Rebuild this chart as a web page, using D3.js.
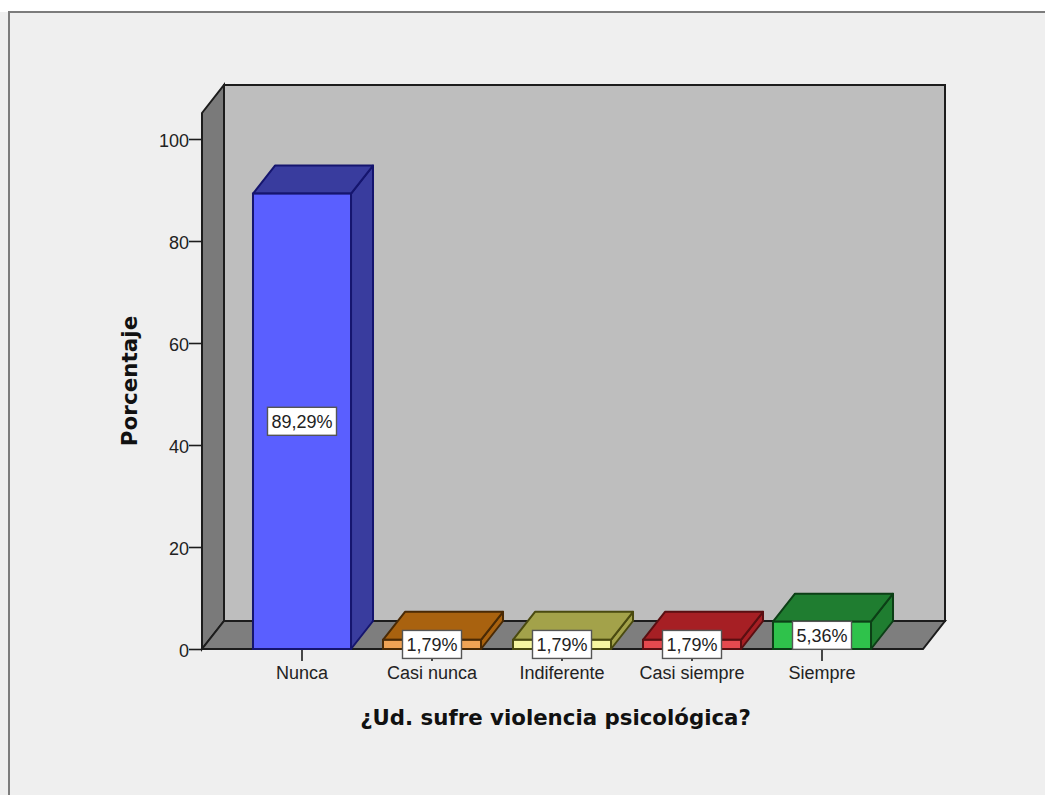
<!DOCTYPE html>
<html><head><meta charset="utf-8">
<script src="https://cdn.jsdelivr.net/npm/d3@7/dist/d3.min.js"></script>
<style>html,body{margin:0;padding:0;background:#fff;overflow:hidden}svg{display:block}</style>
</head><body><svg id="c" width="1045" height="795"></svg>
<script>
const categories = ["Nunca","Casi nunca","Indiferente","Casi siempre","Siempre"];
const values = [89.29,1.79,1.79,1.79,5.36];
const valueLabels = ["89,29%","1,79%","1,79%","1,79%","5,36%"];
const frontColors = ["#5a5fff","#f0a355","#f6f6a0","#e5494f","#2fc24b"];
const topColors = ["#393c9e","#a9620f","#a3a24a","#a61f24","#1f7d30"];
const sideColors = ["#393c9e","#a9620f","#a3a24a","#a61f24","#1f7d30"];
const strokeColors = ["#15156e","#4a2a05","#4a4a10","#5a0f12","#0c3f16"];
const yTicks = [0,20,40,60,80,100];
const xTitle = "¿Ud. sufre violencia psicológica?";
const yTitle = "Porcentaje";

const dx = 22, dy = -28;
const svg = d3.select("#c");
const y = d3.scaleLinear().domain([0,100]).range([649,139]);
const yTop = y(105.1), xL = 202, xR = 923;
const x = d3.scaleBand().domain(categories).range([237,887]).paddingInner(0.246).paddingOuter(0.123);
const poly = pts => d3.line()(pts)+"Z";
const INK = "#1c1c1c";

svg.append("rect").attr("x",-5).attr("y",12).attr("width",1100).attr("height",800).attr("fill","#efefef");
svg.append("path").attr("d","M9,800V12H1050").attr("fill","none").attr("stroke","#7c7c7c").attr("stroke-width",2);

// walls
svg.append("path").attr("d",poly([[xL+dx,y(0)+dy],[xR+dx,y(0)+dy],[xR+dx,yTop+dy],[xL+dx,yTop+dy]]))
  .attr("fill","#bebebe").attr("stroke",INK).attr("stroke-width",2);
svg.append("path").attr("d",poly([[xL,y(0)],[xL+dx,y(0)+dy],[xL+dx,yTop+dy],[xL,yTop]]))
  .attr("fill","#7a7a7a").attr("stroke",INK).attr("stroke-width",2);
svg.append("path").attr("d",poly([[xL,y(0)],[xR,y(0)],[xR+dx,y(0)+dy],[xL+dx,y(0)+dy]]))
  .attr("fill","#7e7e7e").attr("stroke",INK).attr("stroke-width",2);

// axes
const font = "'Liberation Sans',Arial,sans-serif";
const yAxis = d3.axisLeft(y).tickValues(yTicks).tickSize(13).tickPadding(0).tickSizeOuter(0);
const gy = svg.append("g").attr("transform",`translate(${xL},0)`).call(yAxis);
gy.select(".domain").remove();
gy.selectAll("line").attr("stroke",INK).attr("stroke-width",1.6);
gy.selectAll("text").attr("font-family",font).attr("font-size",18).attr("fill","#222").attr("dy","0.42em");

const xAxis = d3.axisBottom(x).tickSize(12).tickPadding(5).tickSizeOuter(0);
const gx = svg.append("g").attr("transform",`translate(0,${y(0)})`).call(xAxis);
gx.select(".domain").remove();
gx.selectAll("line").attr("stroke",INK).attr("stroke-width",1.6);
gx.selectAll("text").attr("font-family",font).attr("font-size",18).attr("fill","#222");

// bars
const g = svg.selectAll("g.bar").data(categories).join("g").attr("class","bar");
g.each(function(c,i){
  const s = d3.select(this), l = x(c), r = l+x.bandwidth(), t = y(values[i]), b = y(0);
  s.append("path").attr("d",poly([[r,b],[r+dx,b+dy],[r+dx,t+dy],[r,t]])).attr("fill",sideColors[i]);
  s.append("path").attr("d",poly([[l,t],[r,t],[r+dx,t+dy],[l+dx,t+dy]])).attr("fill",topColors[i]);
  s.append("rect").attr("x",l).attr("y",t).attr("width",r-l).attr("height",b-t).attr("fill",frontColors[i]);
  s.selectAll("path").attr("stroke",strokeColors[i]).attr("stroke-width",2).attr("stroke-linejoin","round");
  s.select("rect").attr("stroke",strokeColors[i]).attr("stroke-width",2);
});
// value labels
categories.forEach((c,i)=>{
  const cx = x(c)+x.bandwidth()/2, cy = y(values[i]/2);
  const w = valueLabels[i].length>5 ? 69 : 59, h = 28;
  svg.append("rect").attr("x",cx-w/2).attr("y",cy-h/2).attr("width",w).attr("height",h)
    .attr("fill","#fff").attr("stroke","#555").attr("stroke-width",1.4);
  svg.append("text").attr("x",cx).attr("y",cy).attr("dy","0.36em").attr("text-anchor","middle")
    .attr("font-family",font).attr("font-size",18).attr("fill","#222").text(valueLabels[i]);
});
// titles
const tf = "'DejaVu Sans',sans-serif";
svg.append("text").attr("x",555.5).attr("y",725).attr("text-anchor","middle")
  .attr("font-family",tf).attr("font-weight","bold").attr("font-size",21.3).attr("fill","#111").text(xTitle);
svg.append("text").attr("transform","translate(137,381) rotate(-90)").attr("text-anchor","middle")
  .attr("font-family",tf).attr("font-weight","bold").attr("font-size",21.5).attr("fill","#111").text(yTitle);
</script></body></html>
